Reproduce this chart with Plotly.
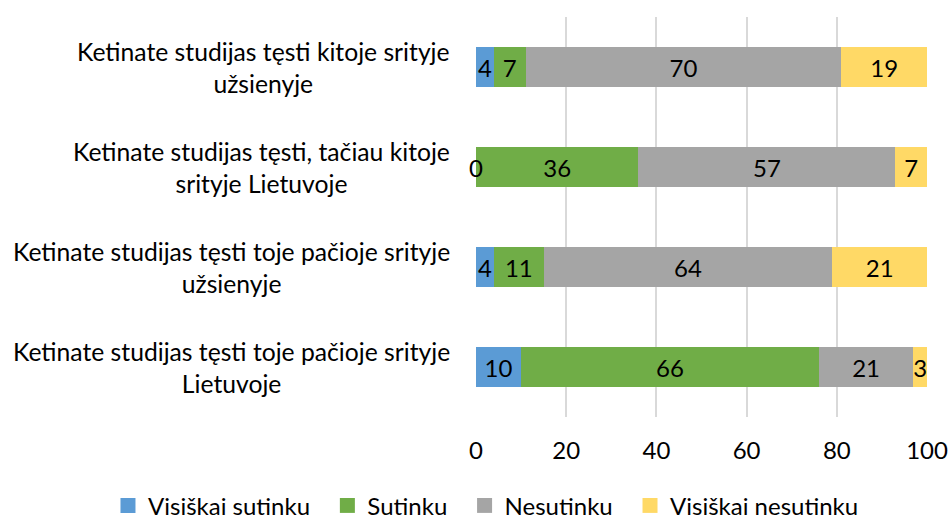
import plotly.graph_objects as go

categories = [
    "Ketinate studijas tęsti kitoje srityje<br>užsienyje",
    "Ketinate studijas tęsti, tačiau kitoje<br>srityje Lietuvoje",
    "Ketinate studijas tęsti toje pačioje srityje<br>užsienyje",
    "Ketinate studijas tęsti toje pačioje srityje<br>Lietuvoje",
]
series_names = ["Visiškai sutinku", "Sutinku", "Nesutinku", "Visiškai nesutinku"]
visiskai_sutinku = [4, 0, 4, 10]
sutinku = [7, 36, 11, 66]
nesutinku = [70, 57, 64, 21]
visiskai_nesutinku = [19, 7, 21, 3]
x_ticks = [0, 20, 40, 60, 80, 100]

colors = ["#5B9BD5", "#70AD47", "#A5A5A5", "#FFD966"]
FONT = "Lato"
FS = 24
series_values = [visiskai_sutinku, sutinku, nesutinku, visiskai_nesutinku]

fig = go.Figure()
for name, vals, col in zip(series_names, series_values, colors):
    fig.add_trace(go.Bar(
        y=categories, x=vals, name=name, orientation="h",
        marker=dict(color=col, line=dict(width=0)),
        text=[str(v) if v != 0 else "" for v in vals],
        textposition="inside", insidetextanchor="middle",
        constraintext="none", textangle=0,
        textfont=dict(family=FONT, size=FS, color="#000000"),
        width=0.4, showlegend=False,
    ))
# legend entries (square swatches); trailing no-break spaces widen the gaps
for i, (name, col) in enumerate(zip(series_names, colors)):
    pad = "\u00a0\u00a0" if i < len(series_names) - 1 else ""
    fig.add_trace(go.Scatter(
        x=[None], y=[None], mode="markers", name=name + pad,
        marker=dict(symbol="square", size=15, color=col),
        showlegend=True,
    ))

annotations = []
for si, vals in enumerate(series_values):
    for ci, v in enumerate(vals):
        if v == 0:
            base = sum(series_values[k][ci] for k in range(si))
            annotations.append(dict(
                x=base, y=categories[ci], xref="x", yref="y", text="0",
                showarrow=False, xanchor="center", yanchor="middle",
                font=dict(family=FONT, size=FS, color="#000000"),
            ))
for c in categories:
    annotations.append(dict(
        x=-0.053, y=c, xref="paper", yref="y", text=c, showarrow=False,
        xanchor="right", yanchor="middle", align="center",
        font=dict(family=FONT, size=24.7, color="#000000"),
    ))

fig.update_layout(
    barmode="stack",
    width=950, height=518,
    margin=dict(l=476, r=23, t=17, b=101, autoexpand=False),
    paper_bgcolor="white", plot_bgcolor="white",
    font=dict(family=FONT, size=FS, color="#000000"),
    xaxis=dict(
        range=[0, 100], tickvals=x_ticks, showgrid=True,
        gridcolor="#D9D9D9", gridwidth=1.5, zeroline=False,
        showline=False, ticks="", ticklabelstandoff=17,
        tickfont=dict(family=FONT, size=FS, color="#000000"),
        fixedrange=True,
    ),
    yaxis=dict(
        categoryorder="array", categoryarray=categories,
        autorange="reversed", showticklabels=False, showgrid=False,
        zeroline=False, showline=False, ticks="", fixedrange=True,
    ),
    legend=dict(
        orientation="h", x=-0.816, xanchor="left", xref="paper",
        y=-0.222, yanchor="middle", yref="paper",
        font=dict(family=FONT, size=FS, color="#000000"),
        itemwidth=30, traceorder="normal",
    ),
    annotations=annotations,
    showlegend=True,
)

fig.write_html("out.html", config={"displayModeBar": False},
               post_script="document.body.style.margin='0';")
